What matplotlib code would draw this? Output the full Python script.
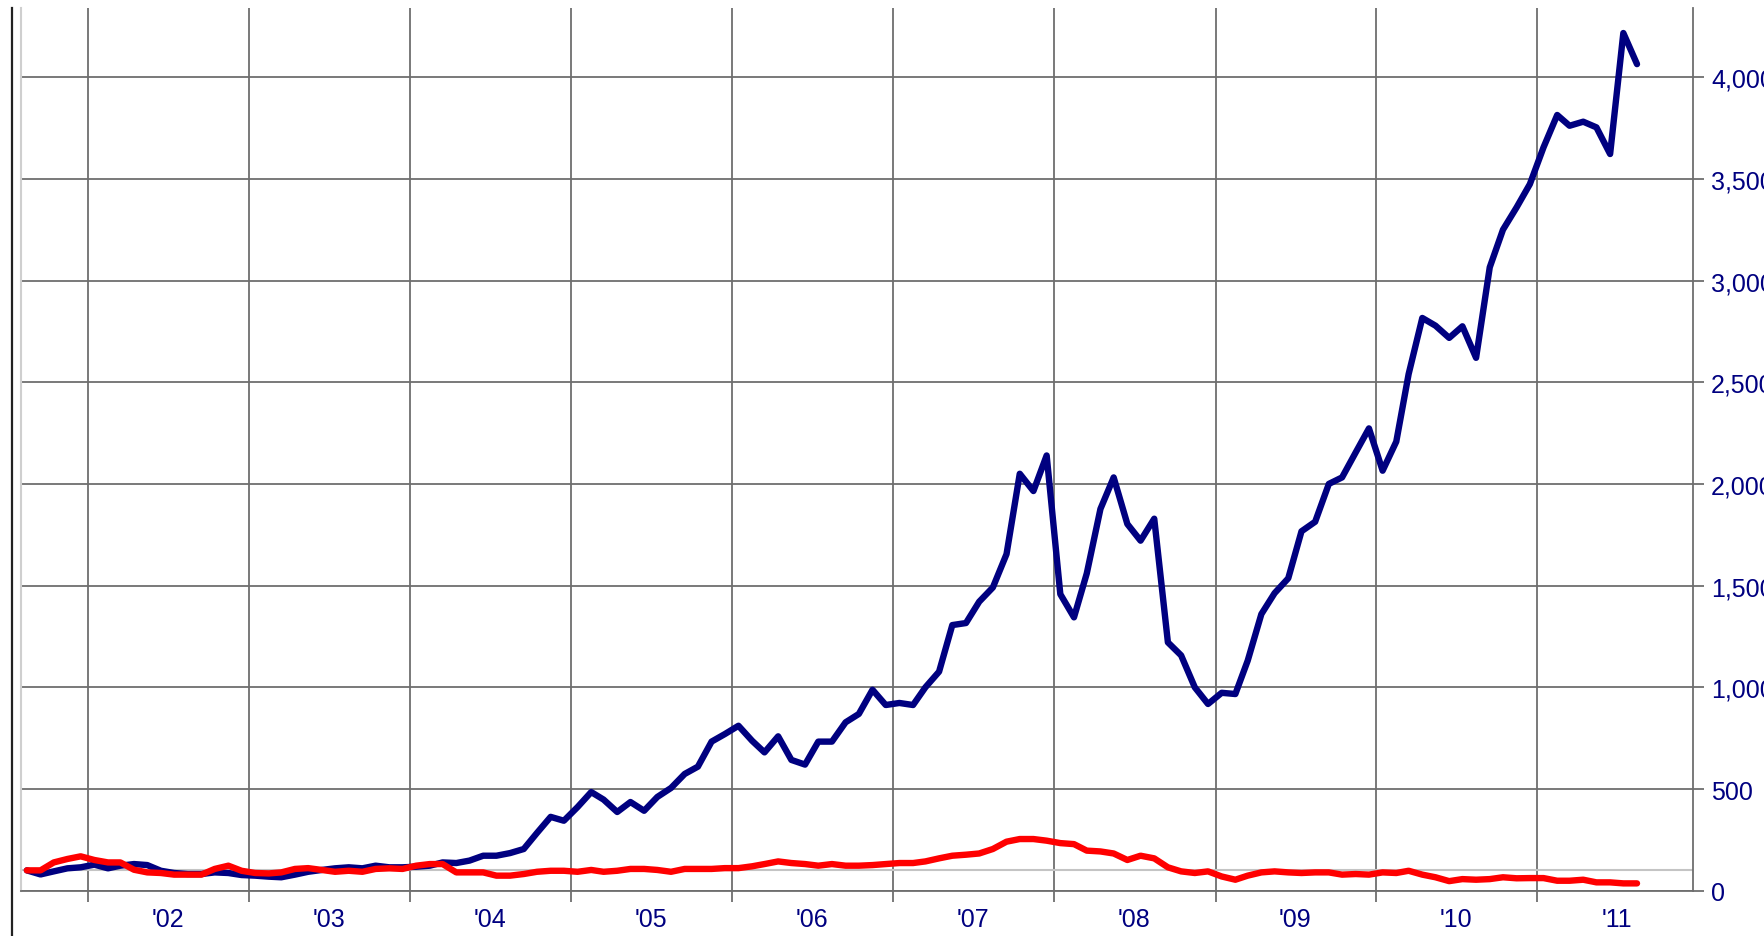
import matplotlib
matplotlib.use('Agg')
import matplotlib.pyplot as plt
import matplotlib.dates as mdates
from matplotlib.ticker import FuncFormatter, NullFormatter
from matplotlib.lines import Line2D
import pandas as pd

# ---- data (monthly, Aug 2001 - Aug 2011, indexed to 100) ----
start_month = '2001-08-01'
end_month = '2011-08-01'

navy_series = [100, 80, 95, 110, 115, 128, 110, 123, 131, 126, 98, 87, 82, 82, 90, 87, 77, 74, 69, 66,
               79, 93, 102, 110, 115, 110, 123, 115, 115, 118, 123, 139, 136, 148, 172, 172, 185, 205, 284, 363,
               344, 411, 485, 448, 387, 436, 393, 461, 505, 574, 610, 733, 770, 811, 737, 680, 759, 643, 620, 733,
               733, 828, 869, 988, 913, 923, 913, 1000, 1077, 1306, 1316, 1421, 1491, 1655, 2050, 1965, 2140, 1458, 1344, 1560,
               1877, 2032, 1803, 1721, 1829, 1221, 1157, 1000, 918, 973, 967, 1131, 1360, 1463, 1536, 1767, 1814, 2000, 2032, 2155,
               2273, 2065, 2208, 2540, 2816, 2778, 2718, 2775, 2620, 3065, 3250, 3360, 3474, 3655, 3814, 3761, 3781, 3753, 3622, 4217,
               4064]

red_series = [100, 100, 139, 156, 169, 151, 139, 139, 103, 90, 87, 79, 79, 79, 107, 123, 98, 87, 85, 90,
              107, 111, 102, 93, 98, 93, 107, 110, 107, 123, 131, 131, 90, 90, 90, 74, 74, 82, 93, 98,
              98, 93, 102, 93, 98, 107, 107, 102, 93, 107, 107, 107, 111, 111, 120, 131, 144, 136, 131, 123,
              131, 123, 123, 126, 131, 136, 136, 144, 159, 172, 177, 183, 205, 241, 254, 254, 246, 234, 229, 197,
              193, 183, 151, 172, 159, 115, 95, 87, 95, 70, 54, 74, 90, 95, 90, 87, 90, 90, 79, 82,
              79, 90, 87, 98, 79, 66, 47, 57, 54, 57, 66, 61, 62, 62, 49, 49, 54, 41, 41, 36,
              36]

y_ticks = [0, 500, 1000, 1500, 2000, 2500, 3000, 3500, 4000]
year_label_fmt = "'%y"

dates = pd.date_range(start_month, end_month, freq='MS') + pd.Timedelta(days=14)

plt.rcParams['font.family'] = ['Liberation Sans', 'DejaVu Sans']

W, H = 1765, 937
fig = plt.figure(figsize=(W / 100, H / 100), dpi=100)
left_px, right_px, top_px, bottom_px = 20.7, 1693, 9, 891.7
ax = fig.add_axes([left_px / W, 1 - bottom_px / H, (right_px - left_px) / W, (bottom_px - top_px) / H])

grid_col = '#6e6e6e'
lab_col = '#000080'

ax.axhline(100, color='#c4c4c4', lw=1.5, zorder=2)
ax.plot(dates, navy_series, color='#000080', lw=4.6, solid_joinstyle='round', solid_capstyle='round', zorder=3)
ax.plot(dates, red_series, color='#ff0000', lw=4.6, solid_joinstyle='round', solid_capstyle='round', zorder=4)

ax.set_ylim(0, 4340)
ax.set_xlim(pd.Timestamp('2001-08-01'), pd.Timestamp('2011-12-20'))

ax.yaxis.tick_right()
ax.set_yticks(y_ticks)
ax.yaxis.set_major_formatter(FuncFormatter(lambda v, p: f'{int(v):,}'))

ax.xaxis.set_major_locator(mdates.YearLocator())
ax.xaxis.set_major_formatter(NullFormatter())
ax.xaxis.set_minor_locator(mdates.MonthLocator(bymonth=7))
ax.xaxis.set_minor_formatter(mdates.DateFormatter(year_label_fmt))

ax.tick_params(axis='x', which='minor', length=0, pad=11.5, labelsize=18, labelcolor=lab_col)
ax.tick_params(axis='x', which='major', length=8, width=1.3, color=grid_col)
ax.tick_params(axis='y', which='major', length=8, width=1.3, color=grid_col, pad=5,
               labelsize=18, labelcolor=lab_col, right=True, left=False)

ax.grid(True, which='major', color=grid_col, lw=1.3, zorder=1)
ax.set_axisbelow(True)

ax.spines['top'].set_visible(False)
ax.spines['left'].set_color('#cfcfcf')
ax.spines['left'].set_linewidth(1.5)
ax.spines['right'].set_color(grid_col)
ax.spines['right'].set_linewidth(1.3)
ax.spines['bottom'].set_color(grid_col)
ax.spines['bottom'].set_linewidth(1.3)

fig.add_artist(Line2D([12.5 / W, 12.5 / W], [0, 1 - top_px / H], color='#222222', lw=1.6,
                      transform=fig.transFigure))

fig.savefig('out.png', dpi=100)
